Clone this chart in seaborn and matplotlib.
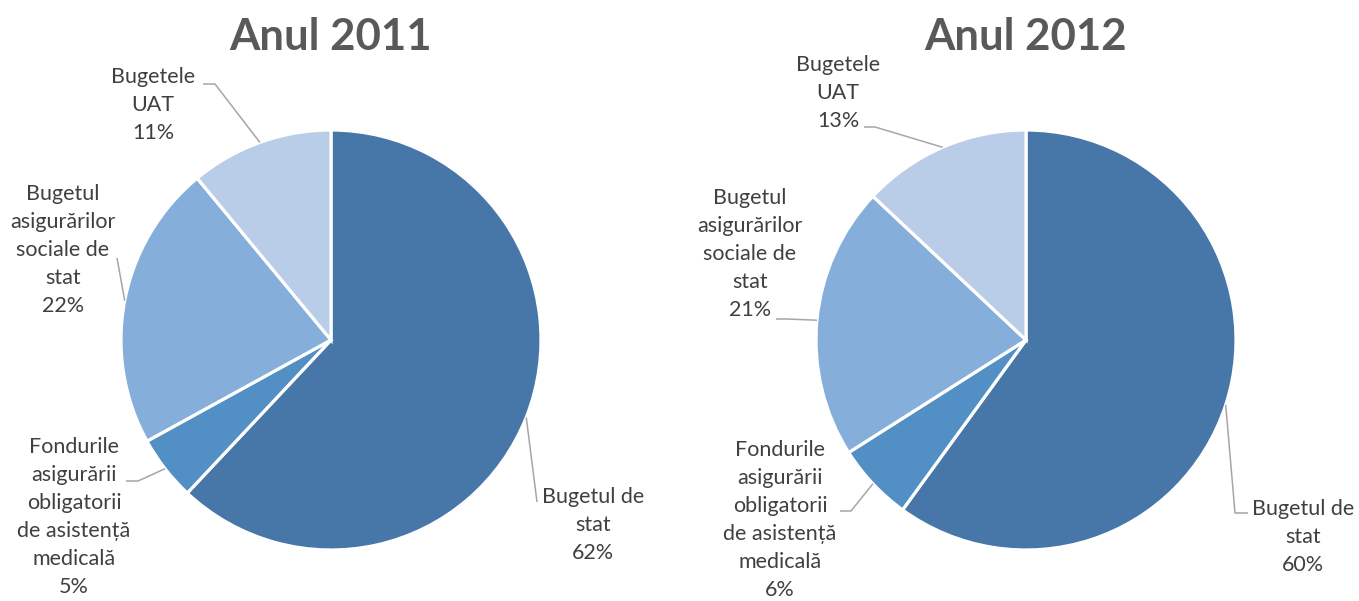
import numpy as np
import matplotlib.pyplot as plt
import seaborn as sns

# Data
years = ["Anul 2011", "Anul 2012"]
categories = [
    "Bugetul de\nstat",
    "Fondurile\nasigurării\nobligatorii\nde asistență\nmedicală",
    "Bugetul\nasigurărilor\nsociale de\nstat",
    "Bugetele\nUAT",
]
share_2011 = [62, 5, 22, 11]
share_2012 = [60, 6, 21, 13]
colors = ["#4677A8", "#528FC5", "#85AEDA", "#B9CDE8"]

sns.set_theme(style="white")
plt.rcParams['font.family'] = ['Lato', 'DejaVu Sans']

W, H = 1359, 601
fig = plt.figure(figsize=(W / 100, H / 100), dpi=100)
ax = fig.add_axes([0, 0, 1, 1])

# layout (pixels, from top-left): pie centre, radius, label centres, leader elbows
R = 210
layout = [
    dict(center=(331, 340),
         text=[(593, 525), (74, 517), (63, 250), (153, 105)],
         elbow=[[(537, 502)], [(126, 481), (138, 481)], [(117, 258)], [(203, 84), (215, 84)]]),
    dict(center=(1026, 340),
         text=[(1303, 537), (780, 520), (750, 254), (838, 93)],
         elbow=[[(1248, 513), (1235, 513)], [(840, 511), (851, 511)], [(776, 319), (787, 319)], [(864, 127), (875, 127)]]),
]

pal = sns.color_palette(colors)
for year, values, lay in zip(years, [share_2011, share_2012], layout):
    cx, cy = lay["center"]
    ax.pie(values, startangle=90, counterclock=False, colors=pal,
           center=(cx, H - cy), radius=R, frame=True,
           wedgeprops=dict(edgecolor="white", linewidth=2.3))
    ax.text(cx, H - 50, year, ha="center", va="baseline", fontsize=31.5,
            fontweight="bold", color="#595959")

    total = sum(values)
    mids = (np.cumsum(values) - np.array(values) / 2) / total
    for name, v, mid, (tx, ty), elbow in zip(categories, values, mids, lay["text"], lay["elbow"]):
        ang = np.deg2rad(90 - 360 * mid)
        ex, ey = cx + R * np.cos(ang), (H - cy) + R * np.sin(ang)
        xs = [p[0] for p in elbow] + [ex]
        ys = [H - p[1] for p in elbow] + [ey]
        ax.plot(xs, ys, color="#A6A6A6", lw=1.1, solid_capstyle="butt")
        ax.text(tx, H - ty, f"{name}\n{v}%", ha="center", va="center",
                multialignment="center", fontsize=15.5, color="#404040",
                linespacing=1.5)

ax.set_xlim(0, W)
ax.set_ylim(0, H)
ax.set_aspect("equal")
ax.axis("off")

fig.savefig("out.png", dpi=100, facecolor="white")
